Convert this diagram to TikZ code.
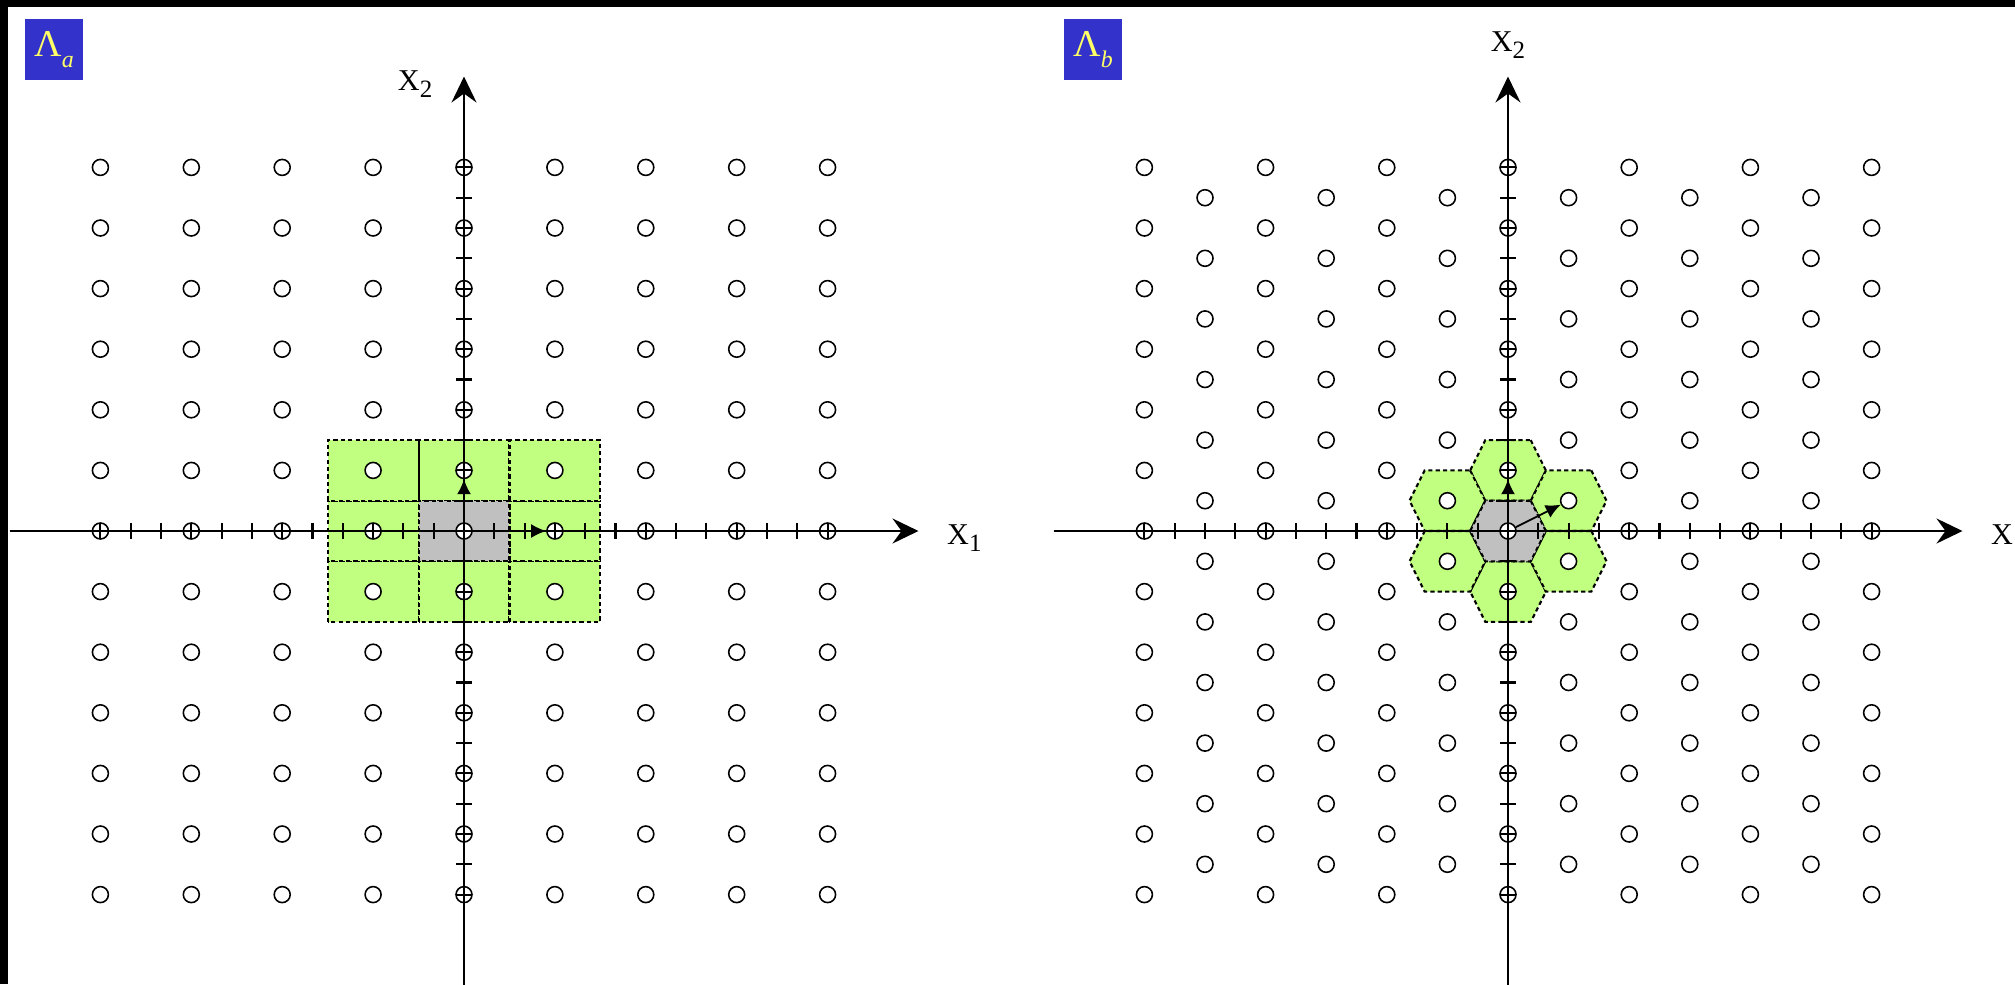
\documentclass[tikz,border=0pt]{standalone}
\usepackage{fontspec}
\setmainfont{Liberation Serif}
\usepackage{tikz}
\usetikzlibrary{calc}
\usetikzlibrary{positioning}
\usetikzlibrary{arrows.meta}
\definecolor{cellColor}{HTML}{C0FF80}
\definecolor{zeroColor}{HTML}{C0C0C0}
\definecolor{boxColor}{HTML}{3333CC}
\definecolor{nameColor}{HTML}{FFFF66}
\newcommand{\lowsub}[3]{\raisebox{-#1}{\fontsize{#2}{#2}\selectfont #3}}

\begin{document}
\begin{tikzpicture}[>=Stealth, every node/.style={font=\small}]
  \tikzset{
    latpt/.style={circle, draw, fill=white, inner sep=0pt, minimum size=0.16cm, line width=0.45pt},
    cell/.style={draw, fill=cellColor, dashed, dash pattern=on 1.2pt off 0.9pt, line width=0.6pt},
    zerocell/.style={cell, fill=zeroColor},
    axisline/.style={line width=0.6pt, -{Stealth[length=0.26cm, width=0.25cm, inset=0.09cm]}},
    tickmark/.style={line width=0.6pt},
    basis/.style={line width=0.5pt, -{Latex[length=0.15cm, width=0.14cm]}},
    axislabel/.style={inner sep=0pt, font=\fontsize{8.6}{10}\selectfont},
    latname/.style={fill=boxColor, text=nameColor, inner sep=0pt,
      minimum width=0.58cm, minimum height=0.61cm, font=\fontsize{10.8}{12}\selectfont}
  }
  \clip (0,0) rectangle (20.15,-9.84);
  \fill[black] (0,0) rectangle (20.15,-9.84);
  \fill[white] (0.08,-0.07) rectangle (20.15,-9.84);
  \node[latname] (name-a) at (0.54,-0.495) {Λ\lowsub{3.1pt}{6.8}{\itshape a}};
  \node[latname] (name-b) at (10.93,-0.495) {Λ\lowsub{3.1pt}{6.8}{\itshape b}};

  \begin{scope}[shift={(4.64,-5.31)}, x=0.303cm, y=0.303cm]
    \foreach \i in {-1,0,1}
      \foreach \j in {-1,0,1}
        \draw[cell] (3*\i-1.5,2*\j-1) rectangle (3*\i+1.5,2*\j+1);
    \draw[zerocell] (-1.5,-1) rectangle (1.5,1);
    \draw[line width=0.6pt] (-1.5,1) -- (-1.5,3);
    \foreach \i in {-4,...,4}
      \foreach \j in {-6,...,6}
        \node[latpt] (a\i_\j) at (3*\i,2*\j) {};
    \coordinate (a-w) at (-15,0);
    \coordinate (a-e) at (15,0);
    \coordinate (a-s) at (0,-15);
    \coordinate (a-n) at (0,15);
    \draw[axisline] (a-w) -- (a-e);
    \draw[axisline] (a-s) -- (a-n);
    \foreach \t in {-12,...,12} {
      \draw[tickmark] (\t,-0.25) -- (\t,0.25);
      \draw[tickmark] (-0.25,\t) -- (0.25,\t);
    }
    \draw[basis] (a0_0) -- (a0_1);
    \draw[basis] (a0_0) -- (a1_0);
    \node[axislabel, right=0.28cm of a-e, yshift=-0.075cm] (a-x1) {X\lowsub{2pt}{7.1}{1}};
    \node[axislabel, left=0.31cm of a-n, yshift=-0.08cm] (a-x2) {X\lowsub{2pt}{7.1}{2}};
  \end{scope}

  \begin{scope}[shift={(15.08,-5.31)}, x=0.303cm, y=0.303cm]
    \foreach \cx/\cy in {0/2,0/-2,2/1,2/-1,-2/1,-2/-1}
      \draw[cell] (\cx+0.75,\cy+1) -- ++(0.5,-1) -- ++(-0.5,-1) -- ++(-1.5,0) -- ++(-0.5,1) -- ++(0.5,1) -- cycle;
    \draw[zerocell] (0.75,1) -- ++(0.5,-1) -- ++(-0.5,-1) -- ++(-1.5,0) -- ++(-0.5,1) -- ++(0.5,1) -- cycle;
    \foreach \j in {-12,-10,...,12}
      \foreach \k in {-6,-4,...,6}
        \node[latpt] (b\k_\j) at (2*\k,\j) {};
    \foreach \j in {-11,-9,...,11}
      \foreach \k in {-5,-3,...,5}
        \node[latpt] (b\k_\j) at (2*\k,\j) {};
    \coordinate (b-w) at (-15,0);
    \coordinate (b-e) at (15,0);
    \coordinate (b-s) at (0,-15);
    \coordinate (b-n) at (0,15);
    \draw[axisline] (b-w) -- (b-e);
    \draw[axisline] (b-s) -- (b-n);
    \foreach \t in {-12,...,12} {
      \draw[tickmark] (\t,-0.25) -- (\t,0.25);
      \draw[tickmark] (-0.25,\t) -- (0.25,\t);
    }
    \draw[basis] (b0_0) -- (b0_2);
    \draw[basis] (b0_0) -- (b1_1);
    \node[axislabel, right=0.28cm of b-e, yshift=-0.075cm] (b-x1) {X\lowsub{2pt}{7.1}{1}};
    \node[axislabel, above=0.17cm of b-n] (b-x2) {X\lowsub{2pt}{7.1}{2}};
  \end{scope}
\end{tikzpicture}
\end{document}
